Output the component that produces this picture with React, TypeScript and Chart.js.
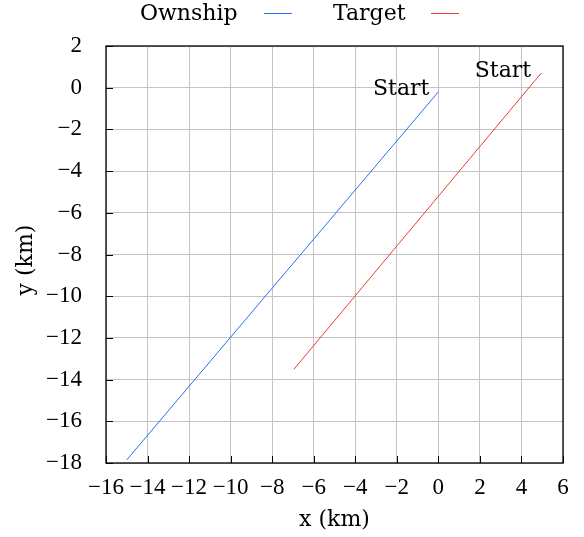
import React, { useEffect, useRef } from "react";
import { Chart, registerables } from "chart.js";

Chart.register(...registerables);

const seriesNames = ["Ownship", "Target"];
const ownshipX = [0, -15];
const ownshipY = [-0.2, -17.85];
const targetX = [4.95, -6.95];
const targetY = [0.7, -13.5];
const startLabel = "Start";
const xTicks = [-16, -14, -12, -10, -8, -6, -4, -2, 0, 2, 4, 6];
const yTicks = [2, 0, -2, -4, -6, -8, -10, -12, -14, -16, -18];
const xTitle = "x (km)";
const yTitle = "y (km)";

const TICKFONT = "'Liberation Serif', serif";
const TEXTFONT = "'DejaVu Serif', serif";
const BLUE = "rgb(40,110,245)";
const RED = "rgb(240,60,50)";

const fmt = (v: number) => (v < 0 ? "\u2212" + Math.abs(v) : String(v));

const decor = {
  id: "decor",
  afterDraw(chart: any) {
    const { ctx, chartArea: a, scales } = chart;
    const xs = scales.x;
    const ys = scales.y;
    ctx.save();
    // inner ticks
    ctx.strokeStyle = "#000";
    ctx.lineWidth = 1;
    ctx.beginPath();
    xTicks.forEach((t) => {
      const px = Math.round(xs.getPixelForValue(t)) + 0.5;
      ctx.moveTo(px, a.bottom);
      ctx.lineTo(px, a.bottom - 7);
    });
    yTicks.forEach((t) => {
      const py = Math.round(ys.getPixelForValue(t)) + 0.5;
      ctx.moveTo(a.left, py);
      ctx.lineTo(a.left + 7, py);
    });
    ctx.stroke();
    // frame
    ctx.lineWidth = 1.3;
    ctx.strokeRect(a.left, a.top, a.right - a.left, a.bottom - a.top);

    ctx.fillStyle = "#000";
    ctx.font = `22px ${TEXTFONT}`;
    // start labels
    ctx.textAlign = "right";
    ctx.textBaseline = "middle";
    ctx.fillText(startLabel, xs.getPixelForValue(ownshipX[0]) - 9, ys.getPixelForValue(ownshipY[0]) - 3);
    ctx.fillText(startLabel, xs.getPixelForValue(targetX[0]) - 10, ys.getPixelForValue(targetY[0]) - 2);

    // axis titles
    ctx.textAlign = "center";
    ctx.fillText(xTitle, (a.left + a.right) / 2, 520);
    ctx.save();
    ctx.translate(26, 260);
    ctx.rotate(-Math.PI / 2);
    ctx.fillText(yTitle, 0, 0);
    ctx.restore();

    // legend
    ctx.textAlign = "left";
    ctx.fillText(seriesNames[0], 140, 14);
    ctx.fillText(seriesNames[1], 333, 14);
    ctx.lineWidth = 1;
    ctx.strokeStyle = BLUE;
    ctx.beginPath();
    ctx.moveTo(264, 13.5);
    ctx.lineTo(292, 13.5);
    ctx.stroke();
    ctx.strokeStyle = RED;
    ctx.beginPath();
    ctx.moveTo(431, 13.5);
    ctx.lineTo(459, 13.5);
    ctx.stroke();
    ctx.restore();
  },
};

export default function App() {
  const ref = useRef<HTMLCanvasElement>(null);
  useEffect(() => {
    document.body.style.margin = "0";
    const chart = new Chart(ref.current!, {
      type: "scatter",
      data: {
        datasets: [
          {
            label: seriesNames[0],
            data: ownshipX.map((x, i) => ({ x, y: ownshipY[i] })),
            showLine: true,
            borderColor: BLUE,
            borderWidth: 1,
            pointRadius: 0,
          },
          {
            label: seriesNames[1],
            data: targetX.map((x, i) => ({ x, y: targetY[i] })),
            showLine: true,
            borderColor: RED,
            borderWidth: 1,
            pointRadius: 0,
          },
        ],
      },
      options: {
        animation: false,
        responsive: false,
        layout: { padding: { left: 0, right: 21, top: 46, bottom: 0 } },
        plugins: { legend: { display: false }, tooltip: { enabled: false } },
        scales: {
          x: {
            type: "linear",
            min: -16,
            max: 6,
            afterBuildTicks: (s: any) => {
              s.ticks = xTicks.map((v) => ({ value: v }));
            },
            afterFit: (s: any) => {
              s.height = 74;
            },
            grid: { color: "#c4c4c4", drawTicks: false, lineWidth: 1 },
            border: { display: false },
            ticks: {
              color: "#000",
              font: { family: TICKFONT, size: 23 },
              padding: 11,
              maxRotation: 0,
              autoSkip: false,
              callback: (v: any) => fmt(Number(v)),
            },
          },
          y: {
            type: "linear",
            min: -18,
            max: 2,
            afterBuildTicks: (s: any) => {
              s.ticks = yTicks.map((v) => ({ value: v }));
            },
            afterFit: (s: any) => {
              s.width = 106;
            },
            grid: { color: "#c4c4c4", drawTicks: false, lineWidth: 1 },
            border: { display: false },
            ticks: {
              color: "#000",
              font: { family: TICKFONT, size: 23 },
              padding: 24,
              autoSkip: false,
              callback: (v: any) => fmt(Number(v)),
            },
          },
        },
      },
      plugins: [decor],
    } as any);
    return () => chart.destroy();
  }, []);
  return (
    <div style={{ width: 584, height: 537 }}>
      <canvas ref={ref} width={584} height={537} style={{ display: "block" }} />
    </div>
  );
}
